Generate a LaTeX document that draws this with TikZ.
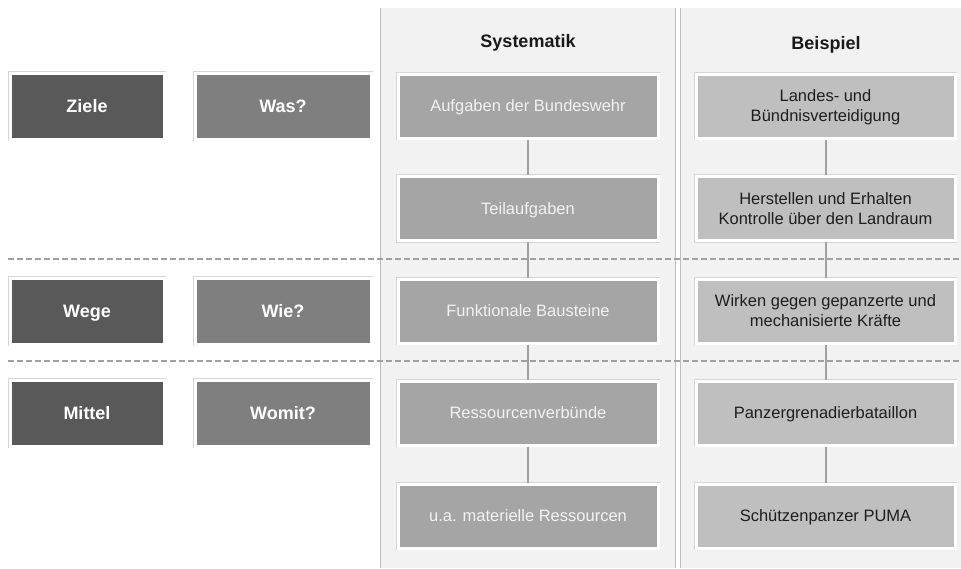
\documentclass[tikz,border=0pt]{standalone}
\usepackage{fontspec}
\setmainfont{Liberation Sans}
\definecolor{panelbg}{HTML}{F2F2F2}
\definecolor{panelline}{HTML}{BDBDBD}
\definecolor{dark}{HTML}{595959}
\definecolor{mid}{HTML}{7F7F7F}
\definecolor{sysfill}{HTML}{A5A5A5}
\definecolor{bspfill}{HTML}{BFBFBF}
\definecolor{connc}{HTML}{A0A0A0}
\definecolor{txtdark}{HTML}{1E1E1E}
\begin{document}
\begin{tikzpicture}[x=1pt,y=-1pt,
  boxbase/.style={rectangle, inner sep=0pt, outer sep=0pt, line width=3pt, draw=white,
    preaction={draw=black!16, line width=4.6pt}, align=center, text depth=0pt},
  leftbox/.style={boxbase, minimum width=154pt, minimum height=66pt, fill=dark, text=white,
    font=\fontsize{18}{21}\selectfont\bfseries, text height=12.9pt},
  askbox/.style={boxbase, minimum width=176pt, minimum height=66pt, fill=mid, text=white,
    font=\fontsize{18}{21}\selectfont\bfseries, text height=12.9pt},
  sysbox/.style={boxbase, minimum width=260pt, minimum height=64pt, fill=sysfill, text=white!95!black,
    font=\fontsize{16.5}{20}\selectfont, text height=11.8pt},
  bspbox/.style={boxbase, minimum width=259pt, minimum height=64pt, fill=bspfill, text=txtdark,
    font=\fontsize{16.5}{20}\selectfont, text height=11.8pt},
  twoline/.style={text height=31.8pt, text depth=0pt},
  header/.style={inner sep=0pt, font=\fontsize{18}{21}\selectfont\bfseries, text=black!90},
  conn/.style={draw=connc, line width=2pt, shorten >=1.5pt, shorten <=1.5pt},
  dashline/.style={draw=connc, line width=2pt, dash pattern=on 6pt off 3pt},
  panelborder/.style={draw=panelline, line width=1pt}
]
\useasboundingbox (0,0) rectangle (961,568);
\fill[white] (0,0) rectangle (961,568);
% panels
\fill[panelbg] (380,8) rectangle (675,568);
\fill[panelbg] (680,8) rectangle (961,568);
\coordinate (p1t) at (380,8); \coordinate (p1b) at (380,568);
\coordinate (p2t) at (675,8); \coordinate (p2b) at (675,568);
\coordinate (p3t) at (680,8); \coordinate (p3b) at (680,568);
\draw[panelborder] (p1t) -- (p1b);
\draw[panelborder] (p2t) -- (p2b);
\draw[panelborder] (p3t) -- (p3b);
% dashed separators
\coordinate (da1) at (8,259); \coordinate (da2) at (961,259);
\coordinate (db1) at (8,361); \coordinate (db2) at (961,361);
\draw[dashline] (da1) -- (da2);
\draw[dashline] (db1) -- (db2);
% headers
\node[header] (hs) at (528,43) {Systematik};
\node[header] (hb) at (826,45) {Beispiel};
% left boxes
\node[leftbox] (ziele) at (87,106) {Ziele};
\node[askbox] (was) at (283,106) {Was?};
\node[leftbox] (wege) at (87,311) {Wege};
\node[askbox] (wie) at (283,311) {Wie?};
\node[leftbox] (mittel) at (87,413) {Mittel};
\node[askbox] (womit) at (283,413) {Womit?};
% systematik column
\node[sysbox] (s1) at (528,106) {Aufgaben der Bundeswehr};
\node[sysbox] (s2) at (528,208.5) {Teilaufgaben};
\node[sysbox] (s3) at (528,311) {Funktionale Bausteine};
\node[sysbox] (s4) at (528,413) {Ressourcenverbünde};
\node[sysbox] (s5) at (528,516) {u.a. materielle Ressourcen};
% beispiel column
\node[bspbox, twoline] (b1) at (825.5,106) {Landes- und\\Bündnisverteidigung};
\node[bspbox, twoline] (b2) at (825.5,208.5) {Herstellen und Erhalten\\Kontrolle über den Landraum};
\node[bspbox, twoline] (b3) at (825.5,311) {Wirken gegen gepanzerte und\\mechanisierte Kräfte};
\node[bspbox] (b4) at (825.5,413) {Panzergrenadierbataillon};
\node[bspbox] (b5) at (825.5,516) {Schützenpanzer PUMA};
% connectors
\draw[conn] (s1) -- (s2);
\draw[conn] (s2) -- (s3);
\draw[conn] (s3) -- (s4);
\draw[conn] (s4) -- (s5);
\draw[conn] (b1) -- (b2);
\draw[conn] (b2) -- (b3);
\draw[conn] (b3) -- (b4);
\draw[conn] (b4) -- (b5);
\end{tikzpicture}
\end{document}
